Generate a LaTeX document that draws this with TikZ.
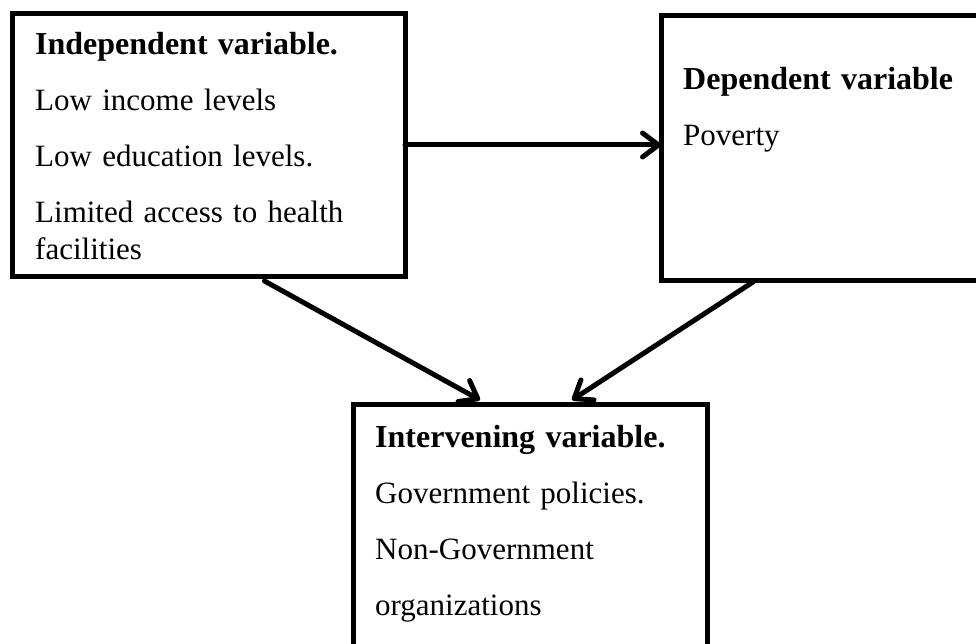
\documentclass[tikz,border=0pt]{standalone}
\usepackage{fontspec}
\setmainfont{Liberation Serif}
\usetikzlibrary{arrows.meta,calc}
\newcommand{\headline}[1]{{\fontsize{32}{37}\selectfont\textbf{#1}}}

\begin{document}
\begin{tikzpicture}[x=1pt,y=-1pt,
	box/.style={draw,line width=5pt,inner sep=0pt,outer sep=0pt,anchor=north west},
	txt/.style={anchor=base west,inner sep=0pt,align=left,text width=#1,font=\fontsize{31}{37}\selectfont},
	txt/.default=360pt,
	arr/.style={line width=5pt,line cap=round,-{Straight Barb[length=16pt,width=24pt,line cap=round,line join=round]}}]
	\useasboundingbox (0,0) rectangle (976,644);
	\clip (0,0) rectangle (976,644);
	% the three boxes
	\node[box,minimum width=393pt,minimum height=262pt] (ind) at (12,14) {};
	\node[box,minimum width=329pt,minimum height=264pt] (dep) at (661,16) {};
	\node[box,minimum width=354pt,minimum height=266pt] (int) at (353,404) {};
	% texts
	\node[txt] (indtext) at (35,55) {\headline{Independent variable.}\\[19pt]
		Low income levels\\[19pt]
		Low education levels.\\[19pt]
		Limited access to health\\
		facilities};
	\node[txt] (deptext) at (683,90) {\headline{Dependent variable}\\[19pt]
		Poverty};
	\node[txt] (inttext) at (375,447) {\headline{Intervening variable.}\\[19pt]
		Government policies.\\[19pt]
		Non-Government\\[19pt]
		organizations};
	% arrows
	\draw[arr] (ind.east) -- (ind.east -| dep.west);
	\draw[arr] ($(ind.south)+(56,5)$) -- ($(int.north)+(-50,-4)$);
	\draw[arr] ($(dep.south west)+(92,2)$) -- ($(int.north)+(42,-4)$);
\end{tikzpicture}
\end{document}
